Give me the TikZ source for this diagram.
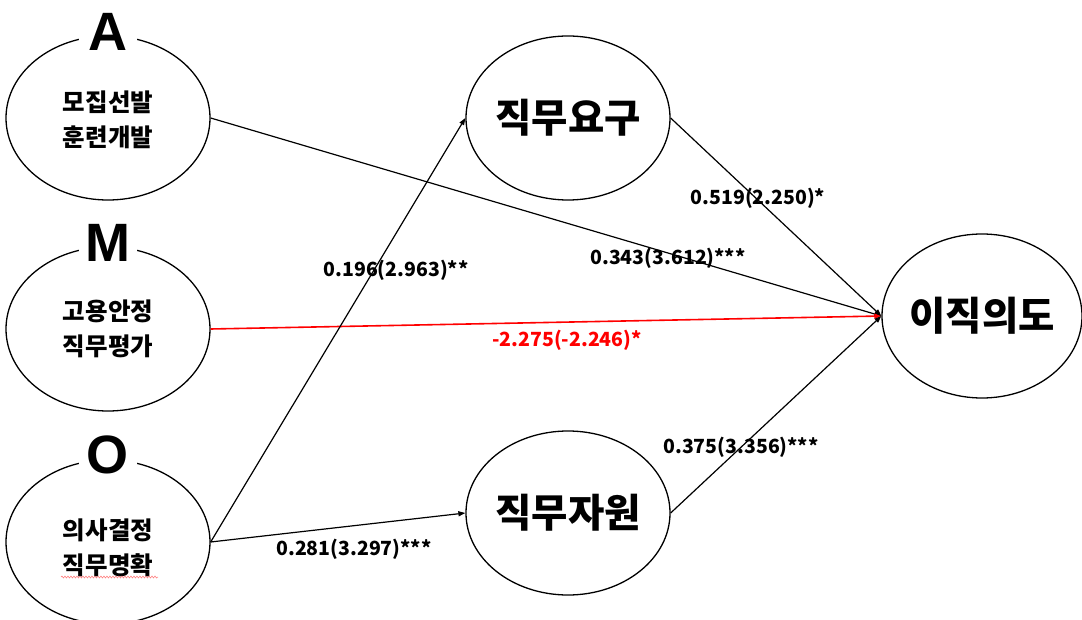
\documentclass[tikz,border=0pt]{standalone}
\usepackage{fontspec}
\newfontfamily\kr{Noto Sans CJK KR}
\newfontfamily\lat{Liberation Sans}
\usetikzlibrary{shapes.geometric,arrows.meta,decorations.pathmorphing}
\tikzset{
  oval/.style={draw, ellipse, line width=1.3pt, minimum width=204pt, minimum height=164pt, inner sep=0pt},
  small/.style={font=\kr\bfseries\fontsize{24.5}{35}\selectfont, align=center},
  big/.style={font=\kr\bfseries\fontsize{39.5}{42}\selectfont},
  letter/.style={fill=white, inner sep=0pt, minimum width=58pt, minimum height=30pt, font=\lat\bfseries\fontsize{54}{54}\selectfont},
  path/.style={line width=1.2pt, -{Triangle[length=7pt,width=5pt]}},
  redpath/.style={path, draw=red, line width=1.6pt},
  coef/.style={font=\kr\bfseries\fontsize{19.5}{22}\selectfont, inner sep=0pt},
}
\begin{document}
\begin{tikzpicture}[x=1pt, y=-1pt]
\useasboundingbox (0,0) rectangle (1082,620);
% ellipses
\node[oval] (A) at (108,118) {};
\node[oval] (M) at (108,329) {};
\node[oval] (O) at (108,542) {};
\node[oval] (D) at (568,118) {};
\node[oval] (R) at (568,513) {};
\node[oval, minimum width=200pt] (T) at (982,316) {};
% letters
\node[letter] (LA) at (108,32) {A};
\node[letter] (LM) at (108,243) {M};
\node[letter] (LO) at (108,455) {O};
% inner texts
\node[small] (tA) at (108,120) {모집선발\\훈련개발};
\node[small] (tM) at (108,329) {고용안정\\직무평가};
\node[small] (tO) at (108,548) {의사결정\\직무명확};
\node[big] (tD) at (568,118) {직무요구};
\node[big] (tR) at (568,513) {직무자원};
\node[big] (tT) at (982,316) {이직의도};
% spell-check underline
\coordinate (s1) at (61,577);
\coordinate (s2) at (158,577);
\draw[red!55, line width=0.5pt, decorate, decoration={snake, amplitude=1pt, segment length=3pt}] (s1) -- (s2);
% paths
\draw[path] (A.east) -- (T.west);
\draw[redpath] (M.east) -- (T.west);
\draw[path] (O.east) -- (D.west);
\draw[path] (O.east) -- (R.west);
\draw[path] (D.east) -- (T.west);
\draw[path] (R.east) -- (T.west);
% coefficients
\node[coef] (c1) at (758,198) {0.519(2.250)*};
\node[coef] (c2) at (668,258) {0.343(3.612)***};
\node[coef, text=red] (c3) at (567,340) {-2.275(-2.246)*};
\node[coef] (c4) at (396,270) {0.196(2.963)**};
\node[coef] (c5) at (741,447) {0.375(3.356)***};
\node[coef] (c6) at (354,549) {0.281(3.297)***};
\end{tikzpicture}
\end{document}
